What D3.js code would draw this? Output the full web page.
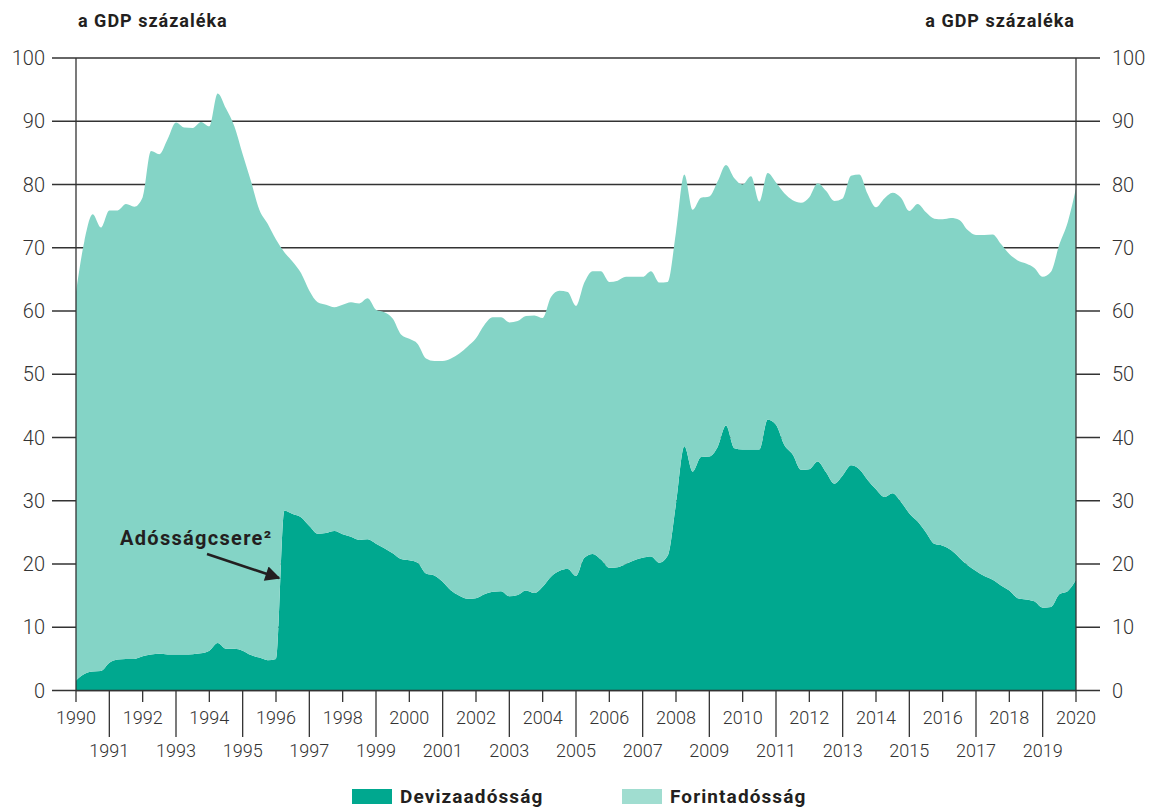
<!DOCTYPE html>
<html>
<head>
<meta charset="utf-8">
<script src="https://cdn.jsdelivr.net/npm/d3@7"></script>
<style>
  body { margin: 0; background: #fff; }
  svg { display: block; font-family: Roboto, "Noto Sans", sans-serif; }
</style>
</head>
<body>
<svg id="chart" width="1152" height="808"></svg>
<script>
// quarterly points, 1990 Q1 .. 2020 Q1 (fraction of year)
const quarters = d3.range(0, 121).map(i => 1990 + i / 4);

// Devizaadósság, % of GDP
const deviza = [
  1.6, 2.6, 3.0, 3.1, 4.4, 4.9, 5.0, 5.0, 5.4, 5.7, 5.8, 5.7,
  5.7, 5.7, 5.75, 5.9, 6.3, 7.5, 6.6, 6.6, 6.3, 5.6, 5.2, 4.8,
  5.0, 28.4, 27.9, 27.4, 26.0, 24.8, 24.9, 25.2, 24.7, 24.3, 23.8, 23.9,
  23.2, 22.5, 21.7, 20.8, 20.6, 20.2, 18.5, 18.2, 17.2, 15.8, 15.0, 14.5,
  14.6, 15.2, 15.6, 15.7, 14.9, 15.1, 15.8, 15.4, 16.4, 18.0, 18.9, 19.2,
  18.1, 21.0, 21.6, 20.7, 19.4, 19.5, 20.0, 20.6, 21.0, 21.2, 20.2, 21.3,
  29.5, 38.6, 34.6, 36.9, 37.0, 38.5, 41.9, 38.3, 38.1, 38.1, 38.1, 42.8,
  42.0, 38.8, 37.3, 34.9, 35.0, 36.2, 34.5, 32.7, 34.0, 35.6, 35.0, 33.3,
  31.8, 30.6, 31.2, 29.8, 28.0, 26.7, 25.0, 23.2, 22.9, 22.2, 21.0, 19.8,
  18.9, 18.1, 17.5, 16.6, 15.8, 14.6, 14.4, 14.1, 13.1, 13.2, 15.2, 15.7,
  17.5
];

// Forintadósság, % of GDP
const forint = [
  61.4, 68.4, 72.3, 70.1, 71.5, 71.0, 71.9, 71.5, 72.6, 79.6, 79.0, 81.5,
  84.1, 83.3, 83.2, 84.0, 82.9, 86.9, 85.4, 82.6, 78.5, 74.9, 70.8, 69.0,
  66.3, 40.9, 39.9, 38.6, 37.2, 36.6, 36.1, 35.4, 36.3, 37.1, 37.4, 38.1,
  37.0, 37.3, 37.1, 35.5, 35.0, 34.6, 34.0, 33.9, 34.9, 36.7, 38.3, 39.9,
  41.1, 42.6, 43.4, 43.3, 43.3, 43.3, 43.4, 43.9, 42.5, 44.2, 44.3, 43.8,
  42.7, 43.5, 44.7, 45.6, 45.2, 45.3, 45.4, 44.8, 44.4, 45.1, 44.3, 43.3,
  43.0, 43.0, 41.4, 41.0, 41.1, 42.0, 41.2, 42.7, 41.9, 43.2, 39.2, 39.0,
  38.3, 39.8, 40.2, 42.2, 43.0, 44.0, 44.5, 44.7, 43.8, 45.8, 46.6, 45.2,
  44.6, 47.2, 47.5, 48.1, 47.8, 50.2, 50.6, 51.4, 51.6, 52.5, 53.4, 53.0,
  53.1, 53.9, 54.6, 54.0, 53.2, 53.4, 53.1, 52.7, 52.3, 53.0, 55.3, 58.3,
  61.9
];

const yTicks = [0, 10, 20, 30, 40, 50, 60, 70, 80, 90, 100];
const yearTicks = d3.range(1990, 2021);
const seriesNames = ["Devizaadósság", "Forintadósság"];
const unitLabel = "a GDP százaléka";
const annotation = "Adósságcsere²";

const colors = { "Devizaadósság": "#00a88f", "Forintadósság": "#84d4c6" };
const legendColors = { "Devizaadósság": "#00a88f", "Forintadósság": "#a0ddd0" };

const plotLeft = 76, plotRight = 1076, plotTop = 58, plotBottom = 690.5;
const svg = d3.select("#chart");

const x = d3.scaleLinear().domain([1990, 2020]).range([plotLeft, plotRight]);
const y = d3.scaleLinear().domain([0, 100]).range([plotBottom, plotTop]);

// table for stacking
const table = quarters.map((t, i) => ({ t: t, "Devizaadósság": deviza[i], "Forintadósság": forint[i] }));
const stacked = d3.stack().keys(seriesNames)(table);

// gridlines (behind the areas), extend past both axes as ticks
svg.append("g")
  .selectAll("line")
  .data(yTicks)
  .join("line")
  .attr("x1", plotLeft - 24)
  .attr("x2", plotRight + 24)
  .attr("y1", d => y(d))
  .attr("y2", d => y(d))
  .attr("stroke", "#333")
  .attr("stroke-width", 1.3);

const area = d3.area()
  .x(d => x(d.data.t))
  .y0(d => y(d[0]))
  .y1(d => y(d[1]))
  .curve(d3.curveMonotoneX);

svg.append("g")
  .selectAll("path")
  .data(stacked)
  .join("path")
  .attr("fill", d => colors[d.key])
  .attr("d", area);

// axis lines
[plotLeft, plotRight].forEach(px => {
  svg.append("line")
    .attr("x1", px).attr("x2", px)
    .attr("y1", plotTop).attr("y2", plotBottom)
    .attr("stroke", "#333")
    .attr("stroke-width", 1.3);
});
svg.append("line")
  .attr("x1", plotLeft).attr("x2", plotRight)
  .attr("y1", plotBottom).attr("y2", plotBottom)
  .attr("stroke", "#333")
  .attr("stroke-width", 1.5);

// y labels both sides
svg.append("g")
  .selectAll("text")
  .data(yTicks)
  .join("text")
  .attr("x", 45)
  .attr("y", d => y(d) + 7)
  .attr("text-anchor", "end")
  .style("font-size", "20px")
  .style("font-weight", 300)
  .attr("fill", "#333")
  .text(d => d);

svg.append("g")
  .selectAll("text")
  .data(yTicks)
  .join("text")
  .attr("x", 1112)
  .attr("y", d => y(d) + 7)
  .attr("text-anchor", "start")
  .style("font-size", "20px")
  .style("font-weight", 300)
  .attr("fill", "#333")
  .text(d => d);

// x ticks: even years short, odd years long
svg.append("g")
  .selectAll("line")
  .data(yearTicks)
  .join("line")
  .attr("x1", d => x(d))
  .attr("x2", d => x(d))
  .attr("y1", plotBottom)
  .attr("y2", d => d % 2 === 0 ? 702 : 737)
  .attr("stroke", "#333")
  .attr("stroke-width", 1.3);

svg.append("g")
  .selectAll("text")
  .data(yearTicks)
  .join("text")
  .attr("x", d => x(d))
  .attr("y", d => d % 2 === 0 ? 724 : 757)
  .attr("text-anchor", "middle")
  .style("font-size", "18px")
  .style("font-weight", 300)
  .attr("fill", "#333")
  .text(d => d);

// unit labels
svg.append("text")
  .attr("x", 78).attr("y", 27)
  .style("font-size", "18px").style("font-weight", 700)
  .style("letter-spacing", "1px")
  .attr("fill", "#231f20")
  .text(unitLabel);
svg.append("text")
  .attr("x", 1075).attr("y", 27)
  .attr("text-anchor", "end")
  .style("font-size", "18px").style("font-weight", 700)
  .style("letter-spacing", "1px")
  .attr("fill", "#231f20")
  .text(unitLabel);

// annotation with arrow
svg.append("defs").append("marker")
  .attr("id", "arrow")
  .attr("viewBox", "0 0 10 10")
  .attr("refX", 9).attr("refY", 5)
  .attr("markerWidth", 7).attr("markerHeight", 6)
  .attr("markerUnits", "strokeWidth")
  .attr("orient", "auto")
  .append("path")
  .attr("d", "M0,0 L10,5 L0,10 Z")
  .attr("fill", "#231f20");

svg.append("text")
  .attr("x", 120).attr("y", 545)
  .style("font-size", "20px").style("font-weight", 700)
  .style("letter-spacing", "1.3px")
  .attr("fill", "#231f20")
  .text(annotation);

svg.append("line")
  .attr("x1", 207).attr("y1", 554)
  .attr("x2", 279).attr("y2", 578)
  .attr("stroke", "#231f20")
  .attr("stroke-width", 2.5)
  .attr("marker-end", "url(#arrow)");

// legend
const legendX = [352, 622];
const legend = svg.append("g")
  .selectAll("g")
  .data(seriesNames)
  .join("g")
  .attr("transform", (d, i) => `translate(${legendX[i]},789)`);
legend.append("rect")
  .attr("width", 40).attr("height", 15)
  .attr("fill", d => legendColors[d]);
legend.append("text")
  .attr("x", 48).attr("y", 14)
  .style("font-size", "19px").style("font-weight", 700)
  .style("letter-spacing", "1.1px")
  .attr("fill", "#231f20")
  .text(d => d);
</script>
</body>
</html>
